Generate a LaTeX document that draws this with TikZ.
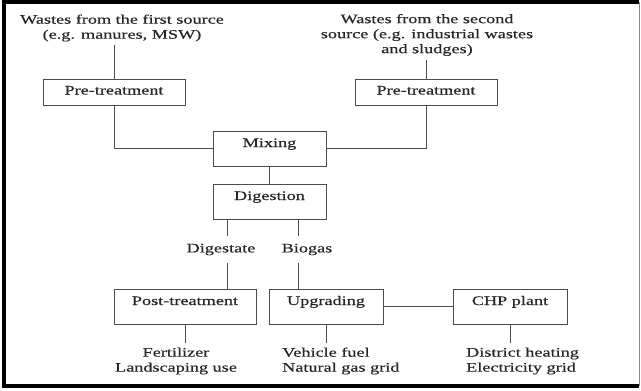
\documentclass[tikz,border=0pt]{standalone}
\usepackage{fontspec}
\setmainfont{Liberation Serif}[FakeStretch=1.4,FakeBold=0.4]
\begin{document}
\begin{tikzpicture}[x=1pt,y=-1pt,
  every node/.style={font=\fontsize{13}{15}\selectfont, text=black!85, inner sep=0pt},
  conn/.style={draw=black!70, line width=0.9pt},
  lowbox/.style={draw=black!70, line width=0.9pt, minimum height=26pt, text height=9pt, text depth=4pt},
  tallbox/.style={draw=black!70, line width=0.9pt, minimum height=35pt, text height=9pt, text depth=12pt},
  lbl/.style={minimum height=27pt}
]
\useasboundingbox (0,0) rectangle (641,391);
% frame
\draw[line width=4pt] (639,2) -- (4,2) -- (4,386) -- (639,386);
\draw[black!45, line width=1pt] (639,2) -- (639,386);

% sources
\node[align=center, inner ysep=3pt] (src1) at (122,28) {Wastes from the first source\\(e.g. manures, MSW)};
\node[align=center, inner ysep=4pt] (src2) at (427,35) {Wastes from the second\\source (e.g. industrial wastes\\and sludges)};

% boxes
\node[lowbox, minimum width=142pt] (pre1) at (114,92) {Pre-treatment};
\node[lowbox, minimum width=142pt] (pre2) at (426,92) {Pre-treatment};
\node[tallbox, minimum width=113pt] (mix) at (269.5,148.5) {Mixing};
\node[tallbox, minimum width=113pt] (dig) at (269.5,201.5) {Digestion};
\node[tallbox, minimum width=142pt] (post) at (185,306.5) {Post-treatment};
\node[tallbox, minimum width=114pt] (upg) at (326,306.5) {Upgrading};
\node[tallbox, minimum width=114pt] (chp) at (510,306.5) {CHP plant};

% labels
\node[lbl] (dgs) at (221,249.5) {Digestate};
\node[lbl] (bio) at (307,249.5) {Biogas};
\coordinate (c1) at (227,0);
\coordinate (c2) at (298,0);

% outputs
\node[align=center, inner ysep=4pt] (fert) at (176,361) {Fertilizer\\Landscaping use};
\node[align=left, inner ysep=4pt, anchor=west] (veh) at (282,361) {Vehicle fuel\\Natural gas grid};
\node[align=left, inner ysep=4pt, anchor=west] (dh) at (466,361) {District heating\\Electricity grid};

% connectors
\draw[conn] (pre1.north |- src1.south) -- (pre1.north);
\draw[conn] (pre2.north |- src2.south) -- (pre2.north);
\draw[conn] (pre1.south) -- (pre1.south |- mix.west) -- (mix.west);
\draw[conn] (pre2.south) -- (pre2.south |- mix.east) -- (mix.east);
\draw[conn] (mix.south) -- (dig.north);
\draw[conn] (dig.south -| c1) -- (dgs.north -| c1);
\draw[conn] (dig.south -| c2) -- (bio.north -| c2);
\draw[conn] (dgs.south -| c1) -- (post.north -| c1);
\draw[conn] (bio.south -| c2) -- (upg.north -| c2);
\draw[conn] (upg.east) -- (chp.west);
\draw[conn] (post.south) -- (post.south |- fert.north);
\draw[conn] (upg.south) -- (upg.south |- veh.north);
\draw[conn] (chp.south) -- (chp.south |- dh.north);
\end{tikzpicture}
\end{document}
